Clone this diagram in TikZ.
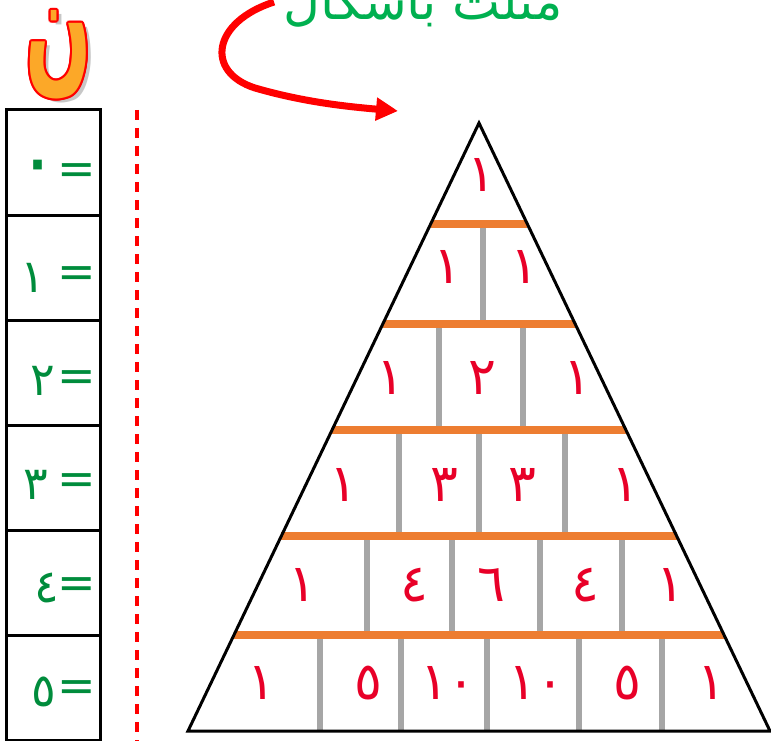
\documentclass[tikz,border=0pt]{standalone}
\usepackage{fontspec}
\newfontfamily\arabicfont[Script=Arabic]{DejaVu Sans}
\newfontfamily\arabicbold[Script=Arabic]{DejaVu Sans Bold}
\usetikzlibrary{calc,arrows.meta}
\TeXXeTstate=1
\definecolor{numred}{RGB}{232,0,40}
\definecolor{labgreen}{RGB}{0,140,60}
\definecolor{titlegreen}{RGB}{0,176,80}
\definecolor{barorange}{RGB}{237,125,49}
\definecolor{divgray}{RGB}{166,166,166}
\definecolor{nunorange}{RGB}{252,168,40}
\tikzset{
  num/.style={text=numred,font=\arabicfont\fontsize{52}{52}\selectfont,inner sep=0pt},
  lab/.style={text=labgreen,font=\arabicfont\fontsize{46}{46}\selectfont,inner sep=0pt},
  nun/.style={font=\arabicbold\fontsize{150}{150}\selectfont,inner sep=0pt,anchor=south},
  bar/.style={barorange,line width=8pt},
  divider/.style={divgray,line width=6.5pt},
  cell/.style={draw,line width=3pt,minimum width=94pt,minimum height=105pt,inner sep=0pt}
}
\newcommand{\nunglyph}{\scalebox{0.52}[0.95]{ن}}
\begin{document}
\begin{tikzpicture}[x=1pt,y=-1pt]
  \useasboundingbox (0,0) rectangle (771,741);
  \clip (0,0) rectangle (771,741);
  \fill[white] (0,0) rectangle (771,741);

  % title and arrow
  \node[titlegreen,font=\arabicfont\fontsize{51}{51}\selectfont,anchor=base,inner sep=0pt] (title) at (423,20) {\beginR مثلث باسكال\endR};
  \coordinate (arrowtail) at (274,2);
  \coordinate (arrowhead) at (398,111);
  \draw[red,line width=7pt,-{Triangle[length=22pt,width=22pt]}] (arrowtail) .. controls (212,22) and (205,72) .. (255,88) .. controls (300,101) and (340,106) .. (arrowhead);

  % the letter nun
  \node[nun,text=black!22] (nunshadow) at (64,103) {\nunglyph};
  \foreach \a in {0,30,...,330}
    \node[nun,text=red] at ($(59,99)+(\a:2pt)$) {\nunglyph};
  \node[nun,text=nunorange] (nunletter) at (59,99) {\nunglyph};

  % left column
  \foreach \d/\dx [count=\k from 0] in {{\fontsize{80}{80}\selectfont ٠}/38,١/33,٢/43,٣/36,٤/47,٥/44} {
    \node[cell] (box\k) at (53,162.5+105*\k) {};
    \node[lab] (digit\k) at (\dx,174+103.5*\k) {\d};
    \node[lab] (eq\k) at (77,174+103.5*\k) {=};
  }
  \draw[red,line width=4pt,dash pattern=on 10pt off 8pt] (137,110) -- (137,741);
  \node[lab] (cut) at (784,637) {٥};

  % triangle
  \coordinate (apex) at (479,123);
  \coordinate (bl) at (188,731);
  \coordinate (br) at (770,731);
  \foreach \ya/\yb/\xs in {224/324/{483},324/430/{439,523},430/536/{399,479,565},536/635/{367,452,540,622},635/731/{320,401,487,579,662}}
    \foreach \x in \xs
      \draw[divider] (\x,\ya) -- (\x,\yb);
  \foreach \t in {0.166,0.331,0.505,0.679,0.842}
    \draw[bar] ($(apex)!\t!(bl)$) -- ($(apex)!\t!(br)$);
  \draw[line width=3pt,line join=miter] (apex) -- (bl) -- (br) -- cycle;

  % numbers
  \foreach \y/\cells [count=\r] in {175/{481/١},267/{447/١,524/١},378/{390/١,482/٢,577/١},485/{343/١,444/٣,522/٣,625/١},585/{302/١,414/٤,491/٦,585/٤,670/١},683/{261/١,368/٥,448/١٠,536/١٠,627/٥,711/١}}
    \foreach \x/\v [count=\c] in \cells
      \node[num] (n\r-\c) at (\x,\y) {\v};
\end{tikzpicture}
\end{document}
